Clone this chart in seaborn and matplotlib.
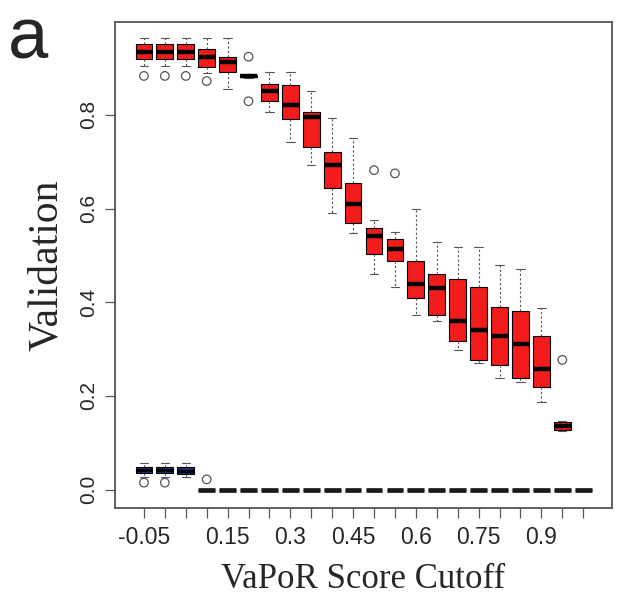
import numpy as np
import pandas as pd
import matplotlib
matplotlib.use('Agg')
import matplotlib.pyplot as plt
import seaborn as sns

cutoffs = ['-0.05', '0', '0.05', '0.1', '0.15', '0.2', '0.25', '0.3', '0.35', '0.4', '0.45',
           '0.5', '0.55', '0.6', '0.65', '0.7', '0.75', '0.8', '0.85', '0.9', '0.95', '1']
tick_labels = ['-0.05', '', '', '', '0.15', '', '', '0.3', '', '', '0.45',
               '', '', '0.6', '', '', '0.75', '', '', '0.9', '', '']

# red boxes (five-number summaries), None = no box
red_lo  = [0.905, 0.905, 0.905, 0.890, 0.855, 0.879, 0.805, 0.742, 0.693, 0.591, 0.548,
           0.461, 0.433, 0.372, 0.361, 0.299, 0.271, 0.238, 0.229, 0.188, 0.126, None]
red_q1  = [0.920, 0.920, 0.920, 0.903, 0.892, 0.880, 0.829, 0.792, 0.732, 0.643, 0.569,
           0.502, 0.487, 0.409, 0.372, 0.318, 0.277, 0.266, 0.238, 0.219, 0.128, None]
red_med = [0.935, 0.935, 0.935, 0.924, 0.913, 0.883, 0.851, 0.822, 0.795, 0.693, 0.610,
           0.541, 0.513, 0.439, 0.431, 0.361, 0.340, 0.329, 0.310, 0.258, 0.136, None]
red_q3  = [0.952, 0.952, 0.952, 0.941, 0.924, 0.886, 0.866, 0.864, 0.805, 0.721, 0.654,
           0.558, 0.535, 0.489, 0.461, 0.450, 0.433, 0.390, 0.381, 0.329, 0.145, None]
red_hi  = [0.963, 0.963, 0.963, 0.963, 0.963, 0.886, 0.892, 0.892, 0.851, 0.794, 0.751,
           0.575, 0.550, 0.600, 0.528, 0.517, 0.517, 0.480, 0.470, 0.387, 0.147, None]
red_out_x = ['-0.05', '0', '0.05', '0.1', '0.2', '0.2', '0.5', '0.55', '0.95']
red_out_y = [0.883, 0.883, 0.883, 0.872, 0.924, 0.829, 0.682, 0.675, 0.277]

# blue boxes
blue_lo  = [0.028, 0.028, 0.028] + [0.0] * 19
blue_q1  = [0.036, 0.036, 0.034] + [0.0] * 19
blue_med = [0.042, 0.042, 0.040] + [0.0] * 19
blue_q3  = [0.049, 0.049, 0.048] + [0.0] * 19
blue_hi  = [0.058, 0.058, 0.056] + [0.0] * 19
blue_out_x = ['-0.05', '0', '0.1']
blue_out_y = [0.015, 0.015, 0.022]


def long_frame(lo, q1, med, q3, hi):
    rows = []
    for c, a, b, m, d, e in zip(cutoffs, lo, q1, med, q3, hi):
        if a is None:
            continue
        for v in (a, b, m, d, e):
            rows.append((c, v))
    return pd.DataFrame(rows, columns=['cutoff', 'value'])


sns.set_style('white')
plt.rcParams['font.family'] = ['Liberation Sans', 'DejaVu Sans']

fig = plt.figure(figsize=(6.22, 6.12), dpi=100)
ax = fig.add_axes([0.185, 0.170, 0.799, 0.794])

box_kw = dict(x='cutoff', y='value', order=cutoffs, width=0.8, whis=(0, 100),
              showfliers=False, linecolor='black', linewidth=0.8, ax=ax, saturation=1,
              whiskerprops=dict(color='#555555', linestyle=(0, (2, 2)), linewidth=0.8),
              capprops=dict(color='#555555', linewidth=0.8))

sns.boxplot(data=long_frame(red_lo, red_q1, red_med, red_q3, red_hi), color='#f21c1c',
            medianprops=dict(color='black', linewidth=3.2), **box_kw)

blue = long_frame(blue_lo, blue_q1, blue_med, blue_q3, blue_hi)
blue_zero = blue.groupby('cutoff')['value'].transform('max') == 0
sns.boxplot(data=blue[~blue_zero], color='#1e2a78',
            medianprops=dict(color='black', linewidth=2.2), **box_kw)
sns.boxplot(data=blue[blue_zero], color='#1e2a78',
            medianprops=dict(color='#1a1a1a', linewidth=3.4), **box_kw)

out_x = [cutoffs.index(c) for c in red_out_x + blue_out_x]
sns.scatterplot(x=out_x, y=red_out_y + blue_out_y, marker='o', s=38, facecolor='none',
                edgecolor='#555555', linewidth=0.9, ax=ax, zorder=5)

ax.set_xlim(-1.38, 22.38)
ax.set_ylim(-0.039, 0.998)
ax.set_xticks(range(len(cutoffs)))
ax.set_xticklabels(tick_labels, fontsize=16.5)
ax.set_yticks([0.0, 0.2, 0.4, 0.6, 0.8])
ax.set_yticklabels(['0.0', '0.2', '0.4', '0.6', '0.8'], fontsize=15, rotation=90, va='center')
ax.tick_params(axis='both', direction='out', length=7, width=0.9, color='#555555',
               bottom=True, left=True)
ax.tick_params(axis='x', pad=6)
ax.tick_params(axis='y', pad=5)

for s in ax.spines.values():
    s.set_visible(True)
    s.set_color('#555555')
    s.set_linewidth(1.3)

ax.set_xlabel('VaPoR Score Cutoff', family=['Liberation Serif'], fontsize=25, labelpad=10)
ax.set_ylabel('Validation', family=['Liberation Serif'], fontsize=30, labelpad=10)

fig.text(0.012, 0.99, 'a', fontsize=52, va='top', ha='left')

fig.savefig('out.png', dpi=100)
